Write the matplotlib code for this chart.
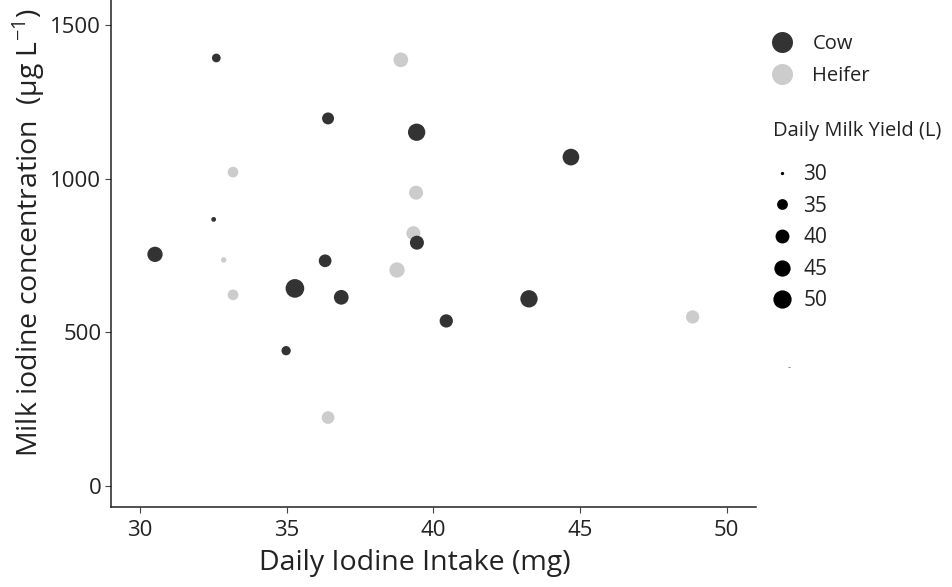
"""
Milk iodine concentration vs daily iodine intake, cows and heifers,
point size = daily milk yield.
"""

import numpy as np
import matplotlib
matplotlib.use("Agg")
import matplotlib.pyplot as plt
from matplotlib.lines import Line2D

plt.rcParams['font.family'] = ['Open Sans', 'DejaVu Sans']

# ==========================================
# data
# ==========================================
cow_intake = [32.60, 36.41, 39.43, 44.69, 32.51, 39.44, 30.51, 36.31, 35.28, 36.86, 43.26, 40.44, 34.98]
cow_iodine = [1394, 1197, 1152, 1071, 868, 792, 754, 733, 643, 614, 609, 537, 440]
cow_yield = [32.6, 36.7, 47.5, 46.0, 30.2, 40.2, 42.8, 37.9, 51.0, 41.6, 47.5, 38.9, 33.2]

heifer_intake = [38.89, 33.17, 39.41, 39.32, 32.85, 38.76, 33.17, 48.84, 36.41]
heifer_iodine = [1388, 1022, 955, 823, 736, 703, 622, 550, 222]
heifer_yield = [41.6, 34.9, 40.2, 40.2, 30.4, 42.8, 34.9, 38.9, 37.9]

yield_breaks = [30, 35, 40, 45, 50]
x_ticks = [30, 35, 40, 45, 50]
y_ticks = [0, 500, 1000, 1500]

COW = '#333333'
HEIFER = '#cccccc'
TXT = '#222222'
DPI = 100


def yield_to_diam(v):
    # diameter in points, area grows with milk yield
    d_px = 3.3 + 3.35 * np.sqrt(np.maximum(np.asarray(v, dtype=float) - 30, 0))
    return d_px * 72 / DPI


fig = plt.figure(figsize=(9.52, 5.87), dpi=DPI)
ax = fig.add_axes([111 / 952, 1 - 507 / 587, (756 - 111) / 952, 507 / 587])

ax.scatter(cow_intake, cow_iodine, s=yield_to_diam(cow_yield) ** 2,
           color=COW, edgecolors='none', zorder=3)
ax.scatter(heifer_intake, heifer_iodine, s=yield_to_diam(heifer_yield) ** 2,
           color=HEIFER, edgecolors='none', zorder=2)

ax.set_xlim(29.01, 51.0)
ax.set_ylim(-69.5, 1583)
ax.set_xticks(x_ticks)
ax.set_yticks(y_ticks)
ax.tick_params(labelsize=16, colors='#444444', length=4, width=0.8,
               labelcolor=TXT)
ax.tick_params(axis='x', pad=5)
ax.tick_params(axis='y', pad=3)
for side in ['top', 'right']:
    ax.spines[side].set_visible(False)
for side in ['left', 'bottom']:
    ax.spines[side].set_color('#222222')
    ax.spines[side].set_linewidth(1.1)

ax.set_xlabel('Daily Iodine Intake (mg)', fontsize=20.5, color=TXT, va='center')
ax.set_ylabel('Milk iodine concentration  (μg L$^{\\mathregular{-1}}$)',
              fontsize=20.5, color=TXT, va='center')
# label positions as in the original (slightly off-centre)
ax.xaxis.set_label_coords((415 - 111) / 645, (507 - 563) / 507)
ax.yaxis.set_label_coords((29 - 111) / 645, (507 - 232) / 507)

# legend: animal type
type_handles = [
    Line2D([], [], marker='o', linestyle='none', markersize=21 * 0.72,
           color=COW, markeredgewidth=0, label='Cow'),
    Line2D([], [], marker='o', linestyle='none', markersize=21 * 0.72,
           color=HEIFER, markeredgewidth=0, label='Heifer'),
]
fig.legend(handles=type_handles, loc='upper left',
           bbox_to_anchor=(768 / 952, 1 - 34 / 587), frameon=False,
           fontsize=14.5, handlelength=1.35, handletextpad=0.85,
           labelspacing=0.6, borderpad=0, borderaxespad=0, labelcolor=TXT)

# legend: milk yield
fig.text(773 / 952, 1 - 131 / 587, 'Daily Milk Yield (L)', fontsize=14.5,
         color=TXT, ha='left', va='center')
size_handles = [
    Line2D([], [], marker='o', linestyle='none', markersize=float(yield_to_diam(b)),
           color='black', markeredgewidth=0, label=str(b))
    for b in yield_breaks
]
fig.legend(handles=size_handles, loc='upper left',
           bbox_to_anchor=(773 / 952, 1 - 164 / 587), frameon=False,
           fontsize=15, handlelength=0.87, handletextpad=0.58,
           labelspacing=0.51, borderpad=0, borderaxespad=0, labelcolor=TXT)

# stray tick mark left in the legend area
fig.text(789 / 952, 1 - 368 / 587, '-', fontsize=7, color='#777777',
         ha='center', va='center')

fig.savefig('out.png', dpi=DPI)
